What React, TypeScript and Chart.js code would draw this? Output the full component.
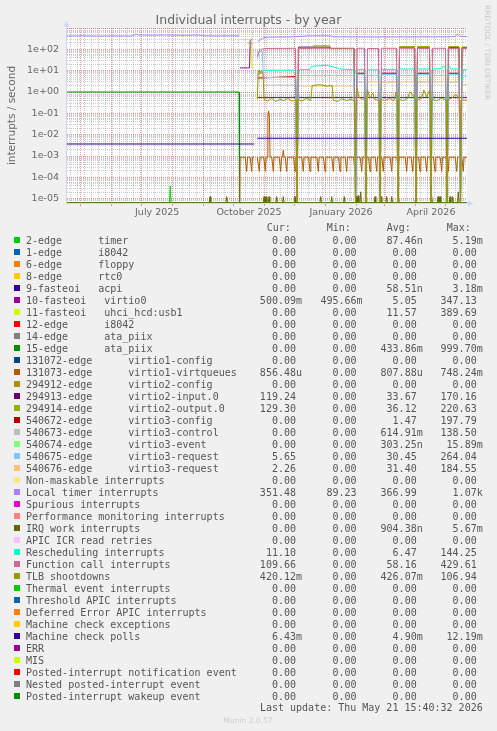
import { useEffect, useRef } from 'react';
import { Chart, registerables } from 'chart.js';

Chart.register(...registerables);

// ---------- geometry of the munin picture ----------
const CANVAS_W = 497;
const CANVAS_H = 731;

// x axis: days since 2025-07-01
const X_MIN = -74.7;
const X_MAX = 325.3;
const Y_MIN = 6.29e-6;
const Y_MAX = 1000;

const MONTH_STARTS = [-61, -30, 0, 31, 62, 92, 123, 153, 184, 215, 243, 274, 304];
const FIRST_MONDAY = -71;
const LABEL_DAYS = [15.5, 107.3, 199.3, 289.3];
const LABEL_TEXTS = ['July 2025', 'October 2025', 'January 2026', 'April 2026'];

const Y_DECADES = [1e-5, 1e-4, 1e-3, 1e-2, 1e-1, 1e0, 1e1, 1e2, 1e3];
const Y_DECADE_LABELS = ['1e-05', '1e-04', '1e-03', '1e-02', '1e-01', '1e+00', '1e+01', '1e+02', ''];

// ---------- legend ----------
const SERIES_NAMES = [
  '2-edge      timer',
  '1-edge      i8042',
  '6-edge      floppy',
  '8-edge      rtc0',
  '9-fasteoi   acpi',
  '10-fasteoi   virtio0',
  '11-fasteoi   uhci_hcd:usb1',
  '12-edge      i8042',
  '14-edge      ata_piix',
  '15-edge      ata_piix',
  '131072-edge      virtio1-config',
  '131073-edge      virtio1-virtqueues',
  '294912-edge      virtio2-config',
  '294913-edge      virtio2-input.0',
  '294914-edge      virtio2-output.0',
  '540672-edge      virtio3-config',
  '540673-edge      virtio3-control',
  '540674-edge      virtio3-event',
  '540675-edge      virtio3-request',
  '540676-edge      virtio3-request',
  'Non-maskable interrupts',
  'Local timer interrupts',
  'Spurious interrupts',
  'Performance monitoring interrupts',
  'IRQ work interrupts',
  'APIC ICR read retries',
  'Rescheduling interrupts',
  'Function call interrupts',
  'TLB shootdowns',
  'Thermal event interrupts',
  'Threshold APIC interrupts',
  'Deferred Error APIC interrupts',
  'Machine check exceptions',
  'Machine check polls',
  'ERR',
  'MIS',
  'Posted-interrupt notification event',
  'Nested posted-interrupt event',
  'Posted-interrupt wakeup event',
];

const SERIES_COLORS = [
  '#00CC00', '#0066B3', '#FF8000', '#FFCC00', '#330099', '#990099', '#CCFF00', '#FF0000', '#808080', '#008F00',
  '#00487D', '#B35A00', '#B38F00', '#6B006B', '#8FB300', '#B30000', '#BEBEBE', '#80FF80', '#80C9FF', '#FFC080',
  '#FFE680', '#AA80FF', '#EE00CC', '#FF8080', '#666600', '#FFBFFF', '#00FFCC', '#CC6699', '#999900',
  '#00CC00', '#0066B3', '#FF8000', '#FFCC00', '#330099', '#990099', '#CCFF00', '#FF0000', '#808080', '#008F00',
];

const CUR = ['0.00', '0.00', '0.00', '0.00', '0.00', '500.09m', '0.00', '0.00', '0.00', '0.00', '0.00', '856.48u', '0.00', '119.24', '129.30', '0.00', '0.00', '0.00', '5.65', '2.26', '0.00', '351.48', '0.00', '0.00', '0.00', '0.00', '11.10', '109.66', '420.12m', '0.00', '0.00', '0.00', '0.00', '6.43m', '0.00', '0.00', '0.00', '0.00', '0.00'];
const MIN = ['0.00', '0.00', '0.00', '0.00', '0.00', '495.66m', '0.00', '0.00', '0.00', '0.00', '0.00', '0.00', '0.00', '0.00', '0.00', '0.00', '0.00', '0.00', '0.00', '0.00', '0.00', '89.23', '0.00', '0.00', '0.00', '0.00', '0.00', '0.00', '0.00', '0.00', '0.00', '0.00', '0.00', '0.00', '0.00', '0.00', '0.00', '0.00', '0.00'];
const AVG = ['87.46n', '0.00', '0.00', '0.00', '58.51n', '5.05', '11.57', '0.00', '0.00', '433.86m', '0.00', '807.88u', '0.00', '33.67', '36.12', '1.47', '614.91m', '303.25n', '30.45', '31.40', '0.00', '366.99', '0.00', '0.00', '904.38n', '0.00', '6.47', '58.16', '426.07m', '0.00', '0.00', '0.00', '0.00', '4.90m', '0.00', '0.00', '0.00', '0.00', '0.00'];
const MAX = ['5.19m', '0.00', '0.00', '0.00', '3.18m', '347.13', '389.69', '0.00', '0.00', '999.70m', '0.00', '748.24m', '0.00', '170.16', '220.63', '197.79', '138.50', '15.89m', '264.04', '184.55', '0.00', '1.07k', '0.00', '0.00', '5.67m', '0.00', '144.25', '429.61', '106.94', '0.00', '0.00', '0.00', '0.00', '12.19m', '0.00', '0.00', '0.00', '0.00', '0.00'];

// ---------- series values (day, value) ----------
type Pt = [number, number | null];
type Level = number | Pt[];

// reboot days splitting the second period into segments A..J
const SEG_BOUNDS = [115.6, 155.3, 213.8, 224.3, 238.3, 256.3, 274.3, 289.3, 305.3, 318.8, 325.3];

const LOC_DATA: Pt[] = [
  [-74.7, 420], [-60, 428], [-45, 418], [-30, 425], [-10, 420], [-6, 505], [-3, 470], [10, 462], [25, 470],
  [40, 455], [58, 468], [61, 430], [75, 425], [90, 430], [97.3, 425], [97.8, null], [105.8, 200], [111, 190],
  [111.5, null], [116, 230], [121, 335], [125, 372], [150, 380], [166, 425], [180, 432], [189, 428], [192, 385],
  [230, 378], [270, 380], [310, 385], [313.5, 400], [315.5, 520], [318, 410], [325.3, 395],
];
const MCP_DATA: Pt[] = [[-74.7, 0.00366], [112.5, 0.00366], [112.8, null], [115.6, 0.0068], [325.3, 0.0068]];
const ATA15_DATA: Pt[] = [[-74.7, 1.0], [97.4, 1.0], [97.9, 0], [325.3, 0]];
const VIRTIO0_DATA: Pt[] = [[98.3, 13.5], [107.8, 13.5], [108.6, 290], [110.5, 290], [110.8, null], [115.6, 0.55], [325.3, 0.55]];
const USB1_DATA: Pt[] = [[98.3, 290], [109.5, 290], [110.3, 13.5], [111.5, 13.5], [111.8, null]];

const TIMER_SPIKES: Pt[] = [[28.6, 4e-5]];
const EVENT_SPIKES: Pt[] = [[304.8, 1.4e-4]];
const IRQWORK_SPIKES: Pt[] = [
  [68.3, 1.25e-5], [85, 1.25e-5], [122.3, 1.25e-5], [124.3, 1.25e-5], [127.3, 1.25e-5], [135, 1.25e-5],
  [141.6, 1.25e-5], [153.3, 1.25e-5], [179, 1.25e-5], [190, 1.25e-5], [202.6, 1.25e-5], [214.3, 1.25e-5],
  [216.3, 1.4e-5], [219, 2.1e-5], [233.3, 1.25e-5], [239.3, 1.25e-5], [245, 1.25e-5], [250, 1.25e-5],
  [256.6, 1.25e-5], [274, 1.25e-5], [290, 1.25e-5], [296.3, 1.25e-5], [298.3, 1.25e-5], [308.3, 1.25e-5],
  [311, 1.25e-5], [316.6, 2.1e-5],
];

const VQ_TOP = 8.8e-4;
const VQ_BOTTOM = 1.9e-4;
const VQ_DIPS_1 = [105, 110];
const VQ_DIPS_2 = [
  117.6, 123.6, 131.6, 139, 145, 153.3, 161.6, 168.3, 176.6, 183.3, 191.6, 198.3, 205, 213.3, 220, 228.3,
  235, 241.6, 250, 256.6, 265, 271, 278.3, 285, 293.3, 300, 306.6, 315, 321.6,
];
const VQ_EXTRA: Pt[] = [
  [125.6, 8.8e-4], [126.2, 0.06], [126.8, 0.13], [127.6, 0.09], [128.4, 8.8e-4],
  [140.8, 8.8e-4], [141.6, 1.9e-3], [142.4, 8.8e-4],
];

const CAL_LEVELS: Level[] = [
  [[115.6, 45], [117.5, 85], [120, 102], [125, 110], [153.8, 112]],
  112, 112, 110, 112, 112, 110, 112, 110, 110,
];
const V2IN_LEVELS: Level[] = [0, [[156.8, 127], [188, 127], [189, 110], [212.3, 110]], 0, 0, 0, 127, 127, 0, 125, 119];
const V2OUT_LEVELS: Level[] = [0, [[156.8, 112], [170, 112], [171.5, 146], [188, 146], [189, 108], [212.3, 108]], 0, 0, 0, 135, 135, 0, 135, 129];
const DRED_LEVELS: Level[] = [[[116, 4.5], [153.8, 5.3]], 0, 7.6, 0, 7.6, 0, 7.6, 0, 7.6, 0];
const GRAY_LEVELS: Level[] = [[[121.6, 2.1], [153.8, 2.1]], 0, 2.9, 0, 2.9, 0, 2.9, 0, 2.9, 0];
const LBLUE_LEVELS: Level[] = [
  [[115.6, 35], [117, 70], [120, 85], [120.8, 80], [121.5, 4.8], [153.8, 4.8]],
  6, 6.5, 6, 6.5, 6, 6.5, 6, 6.5, 5.65,
];
const PEACH_LEVELS: Level[] = [0, 1.9, 0, 3.0, 3.0, 3.0, 3.0, 3.0, 3.0, 2.26];
const RES_LEVELS: Level[] = [
  [[115.6, 6], [119, 9], [122, 10.5], [153.8, 10.5]],
  [[156.8, 11], [168, 11.5], [170, 16], [185, 18], [192, 15], [198, 12], [212.3, 11]],
  11.5, 11, 11.5, 12, 12,
  [[290.8, 12], [300, 12.5], [301, 15.6], [303.8, 15]],
  [[306.8, 15], [308, 15.6], [309, 12], [317.3, 12]],
  11.1,
];
const TLB_LEVELS: Level[] = [
  [[115.6, 0.45], [116.5, 8], [117.5, 11], [118.5, 7], [119.5, 10], [120.5, 9], [121.5, 6], [122.3, 0.45], [126, 0.38],
    [130, 0.5], [134, 0.36], [138, 0.45], [142, 0.4], [146, 0.5], [150, 0.38], [154.7, 0.42]],
  [[155.9, 0.45], [160, 0.38], [165, 0.5], [169, 0.4], [170.5, 2.0], [178, 2.2], [185, 1.9], [190.5, 2.0], [191.5, 0.42],
    [196, 0.36], [200, 0.48], [205, 0.4], [209, 0.45], [213.2, 0.4]],
  [[214.4, 0.5], [215.5, 1.5], [217, 0.6], [220, 0.45], [223.7, 0.5]],
  [[224.9, 0.45], [226, 1.2], [228, 0.5], [231, 0.9], [233, 0.45], [237.7, 0.4]],
  [[238.9, 0.45], [243, 0.4], [248, 0.5], [252, 0.38], [254.5, 1.0], [255.7, 0.45]],
  [[256.9, 0.45], [262, 0.4], [266, 0.5], [268, 1.0], [270.5, 0.8], [273.7, 0.45]],
  [[274.9, 0.42], [280, 0.5], [282, 1.25], [285, 0.6], [288, 1.2], [288.7, 0.45]],
  [[289.9, 0.45], [295, 0.4], [300, 0.5], [304.7, 0.42]],
  [[305.9, 0.45], [310, 0.5], [314, 0.8], [318.2, 0.42]],
  [[319.4, 0.42], [325.3, 0.42]],
];

// ---------- builders ----------
function zeroLine(): Pt[] {
  return [[X_MIN, 0], [X_MAX, 0]];
}
function spikes(list: Pt[]): Pt[] {
  const pts: Pt[] = [[X_MIN, 0]];
  list.forEach(([d, h]) => pts.push([d - 0.8, 0], [d, h], [d + 0.8, 0]));
  pts.push([X_MAX, 0]);
  return pts;
}
function segmented(levels: Level[]): Pt[] {
  const pts: Pt[] = [];
  levels.forEach((lv, s) => {
    const a = SEG_BOUNDS[s];
    const b = SEG_BOUNDS[s + 1];
    if (typeof lv === 'number') {
      pts.push([s === 0 ? a : a + 1.5, lv], [s === levels.length - 1 ? b : b - 1.5, lv]);
    } else {
      pts.push(...lv);
    }
    if (s < levels.length - 1) pts.push([b, 0]);
  });
  return pts;
}
function sawtooth(): Pt[] {
  const pts: Pt[] = [[X_MIN, 0], [98, 0], [98.4, VQ_TOP]];
  VQ_DIPS_1.forEach((d) => pts.push([d - 1.5, VQ_TOP], [d, VQ_BOTTOM], [d + 0.8, VQ_TOP]));
  pts.push([112.3, VQ_TOP], [112.6, null], [115.6, VQ_TOP]);
  VQ_DIPS_2.forEach((d) => pts.push([d - 1.5, VQ_TOP], [d, VQ_BOTTOM], [d + 0.8, VQ_TOP]));
  pts.push([X_MAX, VQ_TOP], ...VQ_EXTRA);
  return pts.sort((p, q) => p[0] - q[0]);
}

const SERIES_DATA: Pt[][] = SERIES_NAMES.map(() => zeroLine());
SERIES_DATA[0] = spikes(TIMER_SPIKES);
SERIES_DATA[5] = VIRTIO0_DATA;
SERIES_DATA[6] = USB1_DATA;
SERIES_DATA[9] = ATA15_DATA;
SERIES_DATA[11] = sawtooth();
SERIES_DATA[13] = segmented(V2IN_LEVELS);
SERIES_DATA[14] = segmented(V2OUT_LEVELS);
SERIES_DATA[15] = segmented(DRED_LEVELS);
SERIES_DATA[16] = segmented(GRAY_LEVELS);
SERIES_DATA[17] = spikes(EVENT_SPIKES);
SERIES_DATA[18] = segmented(LBLUE_LEVELS);
SERIES_DATA[19] = segmented(PEACH_LEVELS);
SERIES_DATA[21] = LOC_DATA;
SERIES_DATA[24] = spikes(IRQWORK_SPIKES);
SERIES_DATA[26] = segmented(RES_LEVELS);
SERIES_DATA[27] = segmented(CAL_LEVELS);
SERIES_DATA[28] = segmented(TLB_LEVELS);
SERIES_DATA[33] = MCP_DATA;

// ---------- styling ----------
const FONT_COLOR = '#666666';
const LEGEND_COLOR = '#555555';
const AXIS_COLOR = '#CFD6F8';
const GRID_MINOR = 'rgba(140,140,140,0.45)';
const GRID_MAJOR = 'rgba(200,40,40,0.45)';
const COL_END = [302, 362.6, 422.7, 482.7];
const HEADER_X = [266.7, 326.7, 386.7, 446.7];
const HEADERS = ['Cur:', 'Min:', 'Avg:', 'Max:'];

const muninPlugin = {
  id: 'munin',
  beforeDraw(chart: any) {
    const { ctx, chartArea: a } = chart;
    ctx.save();
    ctx.fillStyle = '#F0F0F0';
    ctx.fillRect(0, 0, CANVAS_W, CANVAS_H);
    ctx.fillStyle = '#FFFFFF';
    ctx.fillRect(a.left, a.top, a.right - a.left, a.bottom - a.top);
    ctx.restore();
  },
  beforeDatasetsDraw(chart: any) {
    const { ctx, chartArea: a } = chart;
    ctx.save();
    ctx.strokeStyle = AXIS_COLOR;
    ctx.fillStyle = AXIS_COLOR;
    ctx.lineWidth = 1;
    ctx.beginPath();
    ctx.moveTo(a.left - 0.5, a.bottom + 0.5);
    ctx.lineTo(a.right + 2, a.bottom + 0.5);
    ctx.moveTo(a.left - 0.5, a.bottom + 0.5);
    ctx.lineTo(a.left - 0.5, a.top - 3);
    ctx.stroke();
    ctx.beginPath();
    ctx.moveTo(a.right + 6.5, a.bottom + 0.5);
    ctx.lineTo(a.right + 1, a.bottom - 2.5);
    ctx.lineTo(a.right + 1, a.bottom + 3.5);
    ctx.closePath();
    ctx.fill();
    ctx.beginPath();
    ctx.moveTo(a.left - 0.5, a.top - 7);
    ctx.lineTo(a.left - 3.5, a.top - 1.5);
    ctx.lineTo(a.left + 2.5, a.top - 1.5);
    ctx.closePath();
    ctx.fill();
    ctx.restore();
  },
  afterDraw(chart: any) {
    const { ctx, chartArea: a } = chart;
    ctx.save();
    // title
    ctx.fillStyle = FONT_COLOR;
    ctx.font = '12.5px "DejaVu Sans"';
    ctx.textAlign = 'center';
    ctx.textBaseline = 'alphabetic';
    ctx.fillText('Individual interrupts - by year', 248.5, 24);
    // y axis title
    ctx.save();
    ctx.translate(14.5, (a.top + a.bottom) / 2);
    ctx.rotate(-Math.PI / 2);
    ctx.font = '10.5px "DejaVu Sans"';
    ctx.fillText('interrupts / second', 0, 0);
    ctx.restore();
    // side watermark
    ctx.save();
    ctx.translate(485, 5);
    ctx.rotate(Math.PI / 2);
    ctx.font = '7.4px "DejaVu Sans"';
    ctx.fillStyle = '#C8C8C8';
    ctx.textAlign = 'left';
    ctx.fillText('RRDTOOL / TOBI OETIKER', 0, 0);
    ctx.restore();
    // legend table
    ctx.font = '10px "DejaVu Sans Mono"';
    ctx.fillStyle = LEGEND_COLOR;
    ctx.textAlign = 'left';
    HEADERS.forEach((h, k) => ctx.fillText(h, HEADER_X[k], 231));
    SERIES_NAMES.forEach((name, i) => {
      const y = 240 + 12 * i;
      ctx.fillStyle = SERIES_COLORS[i];
      ctx.fillRect(14, y - 3, 6, 6);
      ctx.fillStyle = LEGEND_COLOR;
      ctx.textAlign = 'left';
      ctx.fillText(name, 26, y + 3.5);
      ctx.textAlign = 'right';
      [CUR, MIN, AVG, MAX].forEach((arr, k) => {
        const s = arr[i];
        ctx.fillText(/[0-9]$/.test(s) ? s + ' ' : s, COL_END[k], y + 3.5);
      });
    });
    ctx.textAlign = 'right';
    ctx.fillText('Last update: Thu May 21 15:40:32 2026', 482.7, 711.3);
    ctx.font = '7.5px "DejaVu Sans"';
    ctx.fillStyle = '#CCCCCC';
    ctx.textAlign = 'center';
    ctx.fillText('Munin 2.0.57', 248, 722.5);
    ctx.restore();
  },
};

export default function App() {
  const ref = useRef<HTMLCanvasElement | null>(null);
  useEffect(() => {
    document.body.style.margin = '0';
    document.body.style.background = '#F0F0F0';
    const canvas = ref.current;
    if (!canvas) return;
    // rrdtool draws values at or below the axis minimum on the bottom edge of a log graph
    const datasets = SERIES_NAMES.map((name, i) => ({
      label: name,
      data: SERIES_DATA[i].map(([x, y]) => ({ x, y: y === null ? null : Math.max(y, Y_MIN) })),
      borderColor: SERIES_COLORS[i],
      backgroundColor: SERIES_COLORS[i],
      borderWidth: 1,
      pointRadius: 0,
      pointHoverRadius: 0,
      fill: false,
      tension: 0,
      spanGaps: false,
      order: -i,
      clip: 0,
    }));
    const chart = new Chart(canvas, {
      type: 'line',
      data: { datasets },
      options: {
        animation: false,
        responsive: false,
        maintainAspectRatio: false,
        devicePixelRatio: 1,
        parsing: true,
        layout: { padding: { left: 0, top: 28, right: 30, bottom: 508 } },
        plugins: { legend: { display: false }, tooltip: { enabled: false }, title: { display: false } },
        events: [],
        scales: {
          x: {
            type: 'linear',
            min: X_MIN,
            max: X_MAX,
            bounds: 'data',
            afterFit: (s: any) => { s.height = 20; },
            afterBuildTicks: (s: any) => {
              const t: any[] = [];
              for (let d = FIRST_MONDAY; d <= X_MAX; d += 7) t.push({ value: d, kind: 'week' });
              MONTH_STARTS.forEach((d) => t.push({ value: d, kind: 'month' }));
              LABEL_DAYS.forEach((d, k) => t.push({ value: d, kind: 'label', text: LABEL_TEXTS[k] }));
              t.sort((p, q) => p.value - q.value || (p.kind === 'month' ? 1 : -1));
              s.ticks = t;
            },
            ticks: {
              autoSkip: false,
              maxRotation: 0,
              minRotation: 0,
              padding: 1,
              color: FONT_COLOR,
              font: { family: 'DejaVu Sans', size: 9.5 },
              callback: function (this: any, _v: any, idx: number, ticks: any[]) {
                const t = ticks[idx];
                return t && t.kind === 'label' ? t.text : '';
              },
            },
            grid: {
              color: (c: any) => (c.tick && c.tick.kind === 'month' ? GRID_MAJOR : c.tick && c.tick.kind === 'week' ? GRID_MINOR : 'rgba(0,0,0,0)'),
              lineWidth: 1,
              drawTicks: true,
              tickLength: 3,
              tickColor: (c: any) => (c.tick && c.tick.kind === 'month' ? GRID_MAJOR : 'rgba(0,0,0,0)'),
            },
            border: { display: false, dash: [1, 1] },
          },
          y: {
            type: 'logarithmic',
            min: Y_MIN,
            max: Y_MAX,
            bounds: 'data',
            afterFit: (s: any) => { s.width = 67; },
            afterBuildTicks: (s: any) => {
              const t: any[] = [];
              Y_DECADES.forEach((dec, k) => {
                for (let m = 1; m <= 9; m++) {
                  const v = dec * m;
                  if (v >= Y_MIN && v <= Y_MAX) t.push({ value: v, major: m === 1, text: m === 1 ? Y_DECADE_LABELS[k] : '' });
                }
                if (k === 0) {
                  for (let m = 7; m <= 9; m++) {
                    const v = (dec / 10) * m;
                    if (v >= Y_MIN) t.unshift({ value: v, major: false, text: '' });
                  }
                }
              });
              t.sort((p, q) => p.value - q.value);
              s.ticks = t;
            },
            ticks: {
              autoSkip: false,
              padding: 8,
              color: FONT_COLOR,
              font: { family: 'DejaVu Sans', size: 9.5 },
              callback: function (this: any, _v: any, idx: number, ticks: any[]) {
                const t = ticks[idx];
                return t ? t.text : '';
              },
            },
            grid: {
              color: (c: any) => (c.tick && c.tick.major ? GRID_MAJOR : GRID_MINOR),
              lineWidth: 1,
              drawTicks: false,
            },
            border: { display: false, dash: [1, 1] },
          },
        },
      } as any,
      plugins: [muninPlugin],
    });
    return () => chart.destroy();
  }, []);
  return <canvas ref={ref} width={CANVAS_W} height={CANVAS_H} style={{ display: 'block', width: CANVAS_W, height: CANVAS_H }} />;
}
